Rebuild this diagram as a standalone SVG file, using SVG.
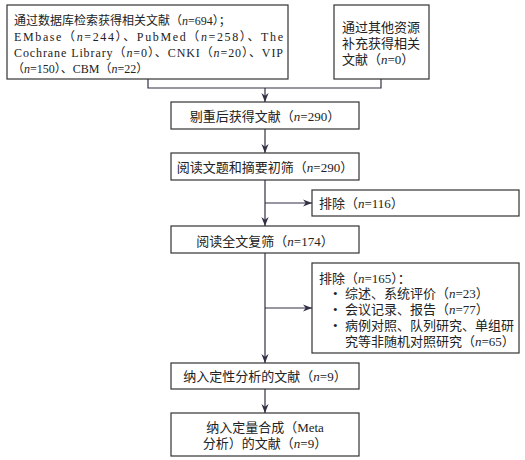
<svg xmlns="http://www.w3.org/2000/svg" width="525" height="460" viewBox="0 0 525 460">
<defs>
<marker id="ah" viewBox="0 0 10 10" refX="10" refY="5" markerWidth="9" markerHeight="9" markerUnits="userSpaceOnUse" orient="auto">
<path d="M0,1 L10,5 L0,9 L3,5 Z" fill="#332f45"/>
</marker>
</defs>
<style>
rect{fill:#fff;stroke:#333;stroke-width:1.2}
text{font-family:"Liberation Serif","Noto Sans CJK SC",serif;font-size:13px;fill:#222}
.s{font-size:12px}
.c{text-anchor:middle}
.e{stroke:#332f45;stroke-width:1.2;fill:none}
</style>
<rect x="0" y="0" width="525" height="460" style="fill:#fff;stroke:none"/>
<g id="n1"><rect x="7" y="5" width="281" height="74"/>
<text class="s" x="14" y="25">通过数据库检索获得相关文献（<tspan font-style="italic">n</tspan>=694）；</text>
<text class="s" x="14" y="41" textLength="269" lengthAdjust="spacing">EMbase（<tspan font-style="italic">n</tspan>=244）、PubMed（<tspan font-style="italic">n</tspan>=258）、The</text>
<text class="s" x="14" y="57" textLength="269" lengthAdjust="spacing">Cochrane Library（<tspan font-style="italic">n</tspan>=0）、CNKI（<tspan font-style="italic">n</tspan>=20）、VIP</text>
<text class="s" x="12" y="73">（<tspan font-style="italic">n</tspan>=150）、CBM（<tspan font-style="italic">n</tspan>=22）</text></g>
<g id="n2"><rect x="334" y="5" width="95" height="74"/>
<text x="342" y="32">通过其他资源</text>
<text x="342" y="48">补充获得相关</text>
<text x="342" y="64">文献（<tspan font-style="italic">n</tspan>=0）</text></g>
<g id="n3"><rect x="171" y="102" width="188" height="27"/>
<text class="c" x="265" y="121">剔重后获得文献（<tspan font-style="italic">n</tspan>=290）</text></g>
<g id="n4"><rect x="171" y="153" width="188" height="27"/>
<text class="c" x="265" y="172">阅读文题和摘要初筛（<tspan font-style="italic">n</tspan>=290）</text></g>
<g id="n5"><rect x="312" y="190" width="207" height="26"/>
<text x="319" y="208">排除（<tspan font-style="italic">n</tspan>=116）</text></g>
<g id="n6"><rect x="171" y="226" width="188" height="27"/>
<text class="c" x="265" y="246">阅读全文复筛（<tspan font-style="italic">n</tspan>=174）</text></g>
<g id="n7"><rect x="312" y="263" width="207" height="90"/>
<text x="319" y="283">排除（<tspan font-style="italic">n</tspan>=165）：</text>
<text x="333" y="298">•</text><text x="345" y="298">综述、系统评价（<tspan font-style="italic">n</tspan>=23）</text>
<text x="333" y="314">•</text><text x="345" y="314">会议记录、报告（<tspan font-style="italic">n</tspan>=77）</text>
<text x="333" y="330">•</text><text x="345" y="330">病例对照、队列研究、单组研</text>
<text x="345" y="346">究等非随机对照研究（<tspan font-style="italic">n</tspan>=65）</text></g>
<g id="n8"><rect x="171" y="363" width="188" height="26"/>
<text class="c" x="265" y="381">纳入定性分析的文献（<tspan font-style="italic">n</tspan>=9）</text></g>
<g id="n9"><rect x="171" y="413" width="188" height="43"/>
<text class="c" x="265" y="432">纳入定量合成（Meta</text>
<text class="c" x="265" y="448">分析）的文献（<tspan font-style="italic">n</tspan>=9）</text></g>
<g id="edges">
<path class="e" d="M148,79 V88 H381 V79"/>
<path class="e" d="M265,88 V102" marker-end="url(#ah)"/>
<path class="e" d="M265,129 V153" marker-end="url(#ah)"/>
<path class="e" d="M265,180 V226" marker-end="url(#ah)"/>
<path class="e" d="M265,203 H312" marker-end="url(#ah)"/>
<path class="e" d="M265,253 V363" marker-end="url(#ah)"/>
<path class="e" d="M265,308 H312" marker-end="url(#ah)"/>
<path class="e" d="M265,389 V413" marker-end="url(#ah)"/>
</g>
</svg>
